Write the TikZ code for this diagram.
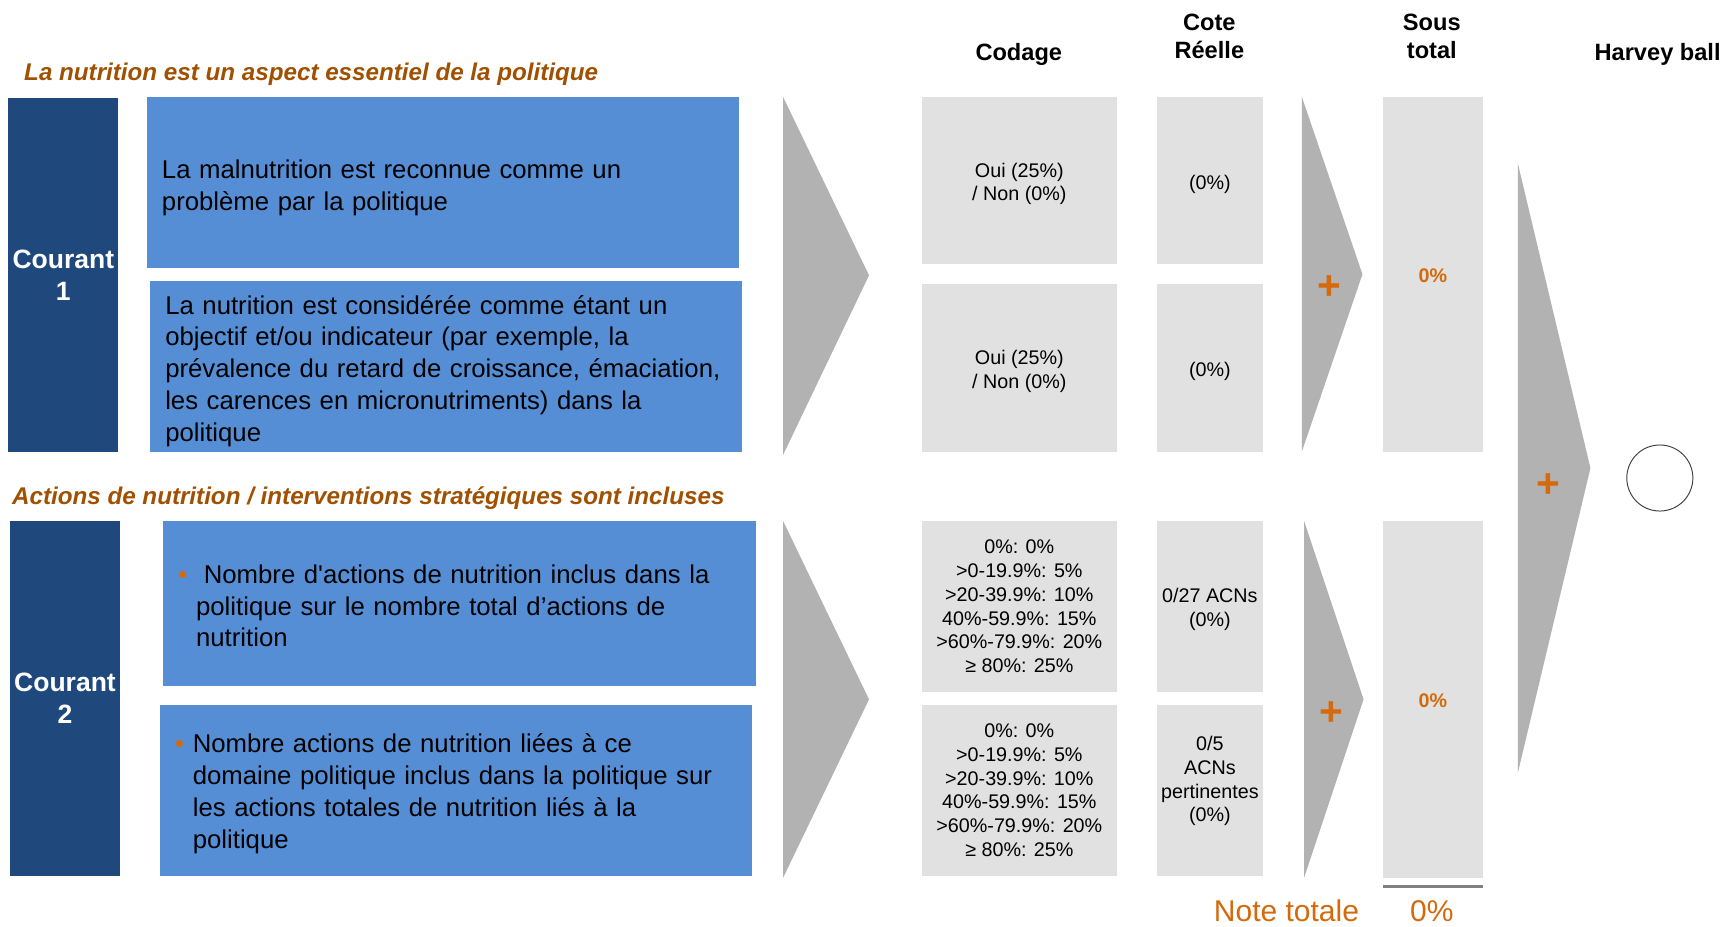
\documentclass[tikz,border=0pt]{standalone}
\usepackage{fontspec}
\setmainfont{Liberation Sans}
\usetikzlibrary{positioning}
\definecolor{courantblue}{RGB}{31,73,125}
\definecolor{critblue}{RGB}{85,142,213}
\definecolor{cellgrey}{RGB}{225,225,225}
\definecolor{wedgegrey}{RGB}{178,178,178}
\definecolor{titlebrown}{RGB}{160,80,0}
\definecolor{scoreorange}{RGB}{212,106,12}
\definecolor{rulegrey}{RGB}{128,128,128}
\tikzstyle{wedge} = [fill=wedgegrey, draw=none]

\begin{document}
\begin{tikzpicture}[x=0.02cm, y=-0.02cm, every node/.style={inner sep=0pt, outer sep=0pt, align=center}]
    % Styles of the score sheet
    \tikzset{
        courant/.style={rectangle, fill=courantblue, text=white, minimum width=2cm, minimum height=6.42cm, font=\fontsize{13.7}{16.5}\selectfont\bfseries},
        crit/.style={rectangle, fill=critblue, align=left, text width=10.2cm, inner xsep=0.28cm, minimum height=3.1cm, font=\fontsize{13.3}{16.5}\selectfont},
        cell/.style={rectangle, fill=cellgrey, minimum height=3.04cm, font=\fontsize{10.2}{12.3}\selectfont},
        code_cell/.style={cell, minimum width=3.54cm},
        cote_cell/.style={cell, minimum width=1.94cm},
        sub_cell/.style={cell, minimum width=1.8cm, minimum height=6.44cm, text=scoreorange, font=\fontsize{10.2}{12.3}\selectfont\bfseries},
        head/.style={font=\fontsize{12.2}{14.9}\selectfont\bfseries},
        section_title/.style={anchor=west, text=titlebrown, font=\fontsize{12.5}{15}\selectfont\bfseries\itshape},
        plus_sign/.style={text=scoreorange, font=\fontsize{21}{21}\selectfont\bfseries},
        total/.style={text=scoreorange, font=\fontsize{15.5}{18}\selectfont}
    }
    \useasboundingbox (0,0) rectangle (1568,841);

    % --- COLUMN HEADERS ---
    \node (h_code) [head] at (925,49) {Codage};
    \node (h_cote) [head] at (1098,33) {Cote\\Réelle};
    \node (h_sub) [head] at (1300,33) {Sous\\total};
    \node (h_harvey) [head] at (1505,49) {Harvey ball};

    % --- COURANT 1 ---
    \node (t1) [section_title] at (22,67) {La nutrition est un aspect essentiel de la politique};
    \node (c1) [courant] at (57.5,249.5) {Courant\\1};
    \node (k1) [crit] at (402,165.5) {\rule{0pt}{0.55cm}La malnutrition est reconnue comme un\\problème par la politique};
    \node (k2) [crit] at (405,332.5) {\rule{0pt}{0.52cm}La nutrition est considérée comme étant un\\objectif et/ou indicateur (par exemple, la\\prévalence du retard de croissance, émaciation,\\les carences en micronutriments) dans la\\politique};
    \fill[wedge] (711,88) -- (711,413) -- (789,250) -- cycle;

    \node (code1) [code_cell] at (925.5,164) {\rule{0pt}{0.38cm}Oui (25\%)\\/ Non (0\%)};
    \node (code2) [code_cell] at (925.5,334) {\rule{0pt}{0.38cm}Oui (25\%)\\/ Non (0\%)};
    \node (cote1) [cote_cell] at (1098.5,164) {\rule{0pt}{0.38cm}(0\%)};
    \node (cote2) [cote_cell] at (1098.5,334) {\rule{0pt}{0.38cm}(0\%)};

    \fill[wedge] (1182,88) -- (1182,410) -- (1237,249) -- cycle;
    \node (p1) [plus_sign] at (1207,261) {+};
    \node (sub1) [sub_cell] at (1301,249) {\rule{0pt}{0.3cm}0\%};

    % --- COURANT 2 ---
    \node (t2) [section_title] at (11,452) {Actions de nutrition / interventions stratégiques sont incluses};
    \node (c2) [courant, minimum height=6.44cm] at (59,634) {Courant\\2};
    \node (k3) [crit, minimum height=3cm] at (417,548) {\rule{0pt}{0.42cm}\makebox[0.32cm][l]{\textcolor{scoreorange}{\textbullet}}\hspace{0.14cm}Nombre d\textquotesingle actions de nutrition inclus dans la\\\hspace*{0.32cm}politique sur le nombre total d’actions de\\\hspace*{0.32cm}nutrition};
    \node (k4) [crit] at (414,717.5) {\rule{0pt}{0.47cm}\makebox[0.32cm][l]{\textcolor{scoreorange}{\textbullet}}Nombre actions de nutrition liées à ce\\\hspace*{0.32cm}domaine politique inclus dans la politique sur\\\hspace*{0.32cm}les actions totales de nutrition liés à la\\\hspace*{0.32cm}politique};
    \fill[wedge] (711,473) -- (711,797) -- (789,635) -- cycle;

    \node (code3) [code_cell, minimum height=3.1cm] at (925.5,550.5) {0\%: 0\%\\>0-19.9\%: 5\%\\>20-39.9\%: 10\%\\40\%-59.9\%: 15\%\\>60\%-79.9\%: 20\%\\≥ 80\%: 25\%};
    \node (code4) [code_cell, minimum height=3.1cm] at (925.5,717.5) {0\%: 0\%\\>0-19.9\%: 5\%\\>20-39.9\%: 10\%\\40\%-59.9\%: 15\%\\>60\%-79.9\%: 20\%\\≥ 80\%: 25\%};
    \node (cote3) [cote_cell, minimum height=3.1cm] at (1098.5,550.5) {\rule{0pt}{0.38cm}0/27 ACNs\\(0\%)};
    \node (cote4) [cote_cell, minimum height=3.1cm] at (1098.5,717.5) {0/5\\ACNs\\pertinentes\\(0\%)\rule[-0.41cm]{0pt}{0.41cm}};

    \fill[wedge] (1184,473) -- (1184,797) -- (1238,635) -- cycle;
    \node (p2) [plus_sign] at (1209,648) {+};
    \node (sub2) [sub_cell, minimum height=6.48cm] at (1301,635) {\rule{0pt}{0.3cm}0\%};

    % --- TOTAL AND HARVEY BALL ---
    \fill[wedge] (1378,148) -- (1378,702) -- (1444,425) -- cycle;
    \node (p3) [plus_sign] at (1406,441) {+};
    \node (ball) [circle, draw=black!75, line width=0.5pt, minimum size=1.2cm] at (1507,434) {};

    \draw[rulegrey, line width=0.06cm] ([yshift=-0.16cm]sub2.south west) -- ([yshift=-0.16cm]sub2.south east);
    \node (note) [total] at (1168,827) {Note totale};
    \node (note_val) [total] at (1300,827) {0\%};

\end{tikzpicture}
\end{document}
